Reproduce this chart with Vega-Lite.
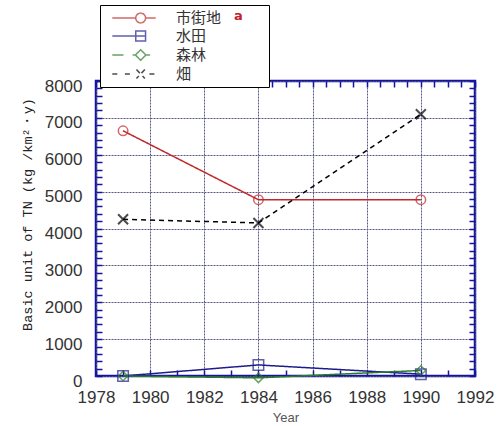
{
  "$schema": "https://vega.github.io/schema/vega-lite/v6.json",
  "width": 379,
  "height": 295,
  "autosize": {"type": "none"},
  "padding": {"left": 96, "top": 81, "right": 26, "bottom": 50},
  "background": "white",
  "config": {
    "view": {"stroke": "#1414a0", "strokeWidth": 2.5},
    "font": "Liberation Sans"
  },
  "data": {
    "values": [
      {"series": "市街地", "year": 1979, "value": 6650},
      {"series": "市街地", "year": 1984, "value": 4780},
      {"series": "市街地", "year": 1990, "value": 4780},
      {"series": "水田", "year": 1979, "value": 0},
      {"series": "水田", "year": 1984, "value": 300},
      {"series": "水田", "year": 1990, "value": 50},
      {"series": "森林", "year": 1979, "value": 0},
      {"series": "森林", "year": 1984, "value": -50},
      {"series": "森林", "year": 1990, "value": 150},
      {"series": "畑", "year": 1979, "value": 4250},
      {"series": "畑", "year": 1984, "value": 4150},
      {"series": "畑", "year": 1990, "value": 7100}
    ]
  },
  "resolve": {"axis": {"x": "independent", "y": "independent"}},
  "layer": [
    {
      "mark": {"type": "line", "strokeWidth": 1.5},
      "encoding": {
        "x": {
          "field": "year", "type": "quantitative",
          "scale": {"domain": [1978, 1992], "nice": false, "zero": false},
          "axis": {
            "orient": "bottom", "title": "Year",
            "values": [1978,1978.5,1979,1979.5,1980,1980.5,1981,1981.5,1982,1982.5,1983,1983.5,1984,1984.5,1985,1985.5,1986,1986.5,1987,1987.5,1988,1988.5,1989,1989.5,1990,1990.5,1991,1991.5,1992],
            "format": "d",
            "labelExpr": "datum.value % 2 === 0 ? datum.label : ''",
            "labelFontSize": 17, "labelColor": "#333", "labelFont": "Liberation Sans",
            "labelPadding": 19, "labelOverlap": false, "labelFlush": false,
            "domain": false,
            "tickColor": "#1414a0", "tickWidth": 1.5, "tickSize": -6,
            "grid": true,
            "gridColor": "#55558a", "gridDash": [2, 1],
            "gridOpacity": {"condition": {"test": "datum.value % 2 === 0", "value": 1}, "value": 0},
            "titleFontSize": 13, "titleFontWeight": "normal", "titleColor": "#555",
            "titleBaseline": "middle", "titleY": 41
          }
        },
        "y": {
          "field": "value", "type": "quantitative",
          "scale": {"domain": [0, 8000], "nice": false},
          "axis": {
            "orient": "left",
            "title": "Basic unit of TN (kg /km²・y)",
            "values": [0,200,400,600,800,1000,1200,1400,1600,1800,2000,2200,2400,2600,2800,3000,3200,3400,3600,3800,4000,4200,4400,4600,4800,5000,5200,5400,5600,5800,6000,6200,6400,6600,6800,7000,7200,7400,7600,7800,8000],
            "format": "d",
            "labelExpr": "datum.value % 1000 === 0 ? datum.label : ''",
            "labelFontSize": 17, "labelColor": "#333", "labelFont": "Liberation Sans",
            "labelPadding": 20, "labelOffset": 5, "labelOverlap": false, "labelFlush": false,
            "domain": false,
            "tickColor": "#1414a0", "tickWidth": 1.5, "tickSize": -6,
            "grid": true,
            "gridColor": "#55558a", "gridDash": [2, 1],
            "gridOpacity": {"condition": {"test": "datum.value % 1000 === 0", "value": 1}, "value": 0},
            "titleFont": "Liberation Mono", "titleFontSize": 13.5, "titleFontWeight": "normal", "titleColor": "#222",
            "titleBaseline": "middle", "titleX": -69, "titleY": 133
          }
        },
        "color": {
          "field": "series", "type": "nominal",
          "scale": {"domain": ["市街地", "水田", "森林", "畑"], "range": ["#c0282a", "#1c1c8c", "#2a7a2a", "#000000"]},
          "legend": {
            "orient": "none", "legendX": 4, "legendY": -76,
            "title": "a\u2800\u2800",
            "titleOrient": "right", "titleAnchor": "start", "titleColor": "#c02030",
            "titleFont": "DejaVu Sans",
            "titleFontSize": 13, "titleFontWeight": "bold", "titlePadding": 13,
            "fillColor": "white", "strokeColor": "#000",
            "padding": 5, "rowPadding": 2,
            "labelFont": "Noto Sans CJK JP", "labelFontSize": 15, "labelColor": "#333",
            "symbolSize": 196, "symbolOffset": 21, "labelOffset": 34,
            "symbolFillColor": "transparent"
          }
        },
        "strokeDash": {
          "field": "series", "type": "nominal",
          "scale": {"domain": ["市街地", "水田", "森林", "畑"], "range": [[1, 0], [1, 0], [1, 0], [5, 4]]},
          "legend": null
        }
      }
    },
    {
      "transform": [{"filter": "datum.series === '市街地'"}],
      "mark": {"type": "point", "shape": "circle", "filled": false, "strokeWidth": 1.5, "size": 90},
      "encoding": {
        "x": {"field": "year", "type": "quantitative", "axis": null},
        "y": {"field": "value", "type": "quantitative", "axis": null},
        "color": {"field": "series", "type": "nominal"}
      }
    },
    {
      "transform": [{"filter": "datum.series === '水田'"}],
      "mark": {"type": "point", "shape": "square", "filled": false, "strokeWidth": 1.5, "size": 110},
      "encoding": {
        "x": {"field": "year", "type": "quantitative", "axis": null},
        "y": {"field": "value", "type": "quantitative", "axis": null},
        "color": {"field": "series", "type": "nominal"}
      }
    },
    {
      "transform": [{"filter": "datum.series === '森林'"}],
      "mark": {"type": "point", "shape": "diamond", "filled": false, "strokeWidth": 1.5, "size": 90},
      "encoding": {
        "x": {"field": "year", "type": "quantitative", "axis": null},
        "y": {"field": "value", "type": "quantitative", "axis": null},
        "color": {"field": "series", "type": "nominal"}
      }
    },
    {
      "transform": [{"filter": "datum.series === '畑'"}],
      "mark": {"type": "point", "shape": "M-1,-1L1,1M1,-1L-1,1", "filled": false, "strokeWidth": 2, "size": 100},
      "encoding": {
        "x": {"field": "year", "type": "quantitative", "axis": null},
        "y": {"field": "value", "type": "quantitative", "axis": null},
        "color": {"field": "series", "type": "nominal"}
      }
    },
    {
      "data": {"values": [
        {"series": "市街地", "year": null, "value": null},
        {"series": "水田", "year": null, "value": null},
        {"series": "森林", "year": null, "value": null},
        {"series": "畑", "year": null, "value": null}
      ]},
      "mark": {"type": "point", "filled": false},
      "encoding": {
        "x": {"field": "year", "type": "quantitative", "axis": null},
        "y": {"field": "value", "type": "quantitative", "axis": null},
        "color": {"field": "series", "type": "nominal"},
        "shape": {
          "field": "series", "type": "nominal",
          "scale": {
            "domain": ["市街地", "水田", "森林", "畑"],
            "range": [
              "M-3.1,0H0.25M1.65,0H3.1M0.25,0A0.7,0.7 0 1,0 1.65,0A0.7,0.7 0 1,0 0.25,0",
              "M-3.1,0H1.65M0.25,-0.7H1.65V0.7H0.25Z",
              "M-3.1,0H-1.5M-0.2,0H0.25M0.95,-0.75L1.7,0L0.95,0.75L0.2,0ZM1.7,0H2.3",
              "M-3.1,0H-2.2M-1.3,0H-0.4M0.35,-0.65L1.55,0.65M1.55,-0.65L0.35,0.65M2.2,0H3.1"
            ]
          }
        }
      }
    },
    {
      "mark": {"type": "point", "opacity": 0},
      "encoding": {
        "x": {
          "field": "year", "type": "quantitative",
          "axis": {
            "orient": "top", "title": null, "labels": false, "grid": false, "domain": false,
            "values": [1978,1978.5,1979,1979.5,1980,1980.5,1981,1981.5,1982,1982.5,1983,1983.5,1984,1984.5,1985,1985.5,1986,1986.5,1987,1987.5,1988,1988.5,1989,1989.5,1990,1990.5,1991,1991.5,1992],
            "tickColor": "#1414a0", "tickWidth": 1.5, "tickSize": -6
          }
        },
        "y": {
          "field": "value", "type": "quantitative",
          "axis": {
            "orient": "right", "title": null, "labels": false, "grid": false, "domain": false,
            "values": [0,200,400,600,800,1000,1200,1400,1600,1800,2000,2200,2400,2600,2800,3000,3200,3400,3600,3800,4000,4200,4400,4600,4800,5000,5200,5400,5600,5800,6000,6200,6400,6600,6800,7000,7200,7400,7600,7800,8000],
            "tickColor": "#1414a0", "tickWidth": 1.5, "tickSize": -6
          }
        }
      }
    }
  ]
}
